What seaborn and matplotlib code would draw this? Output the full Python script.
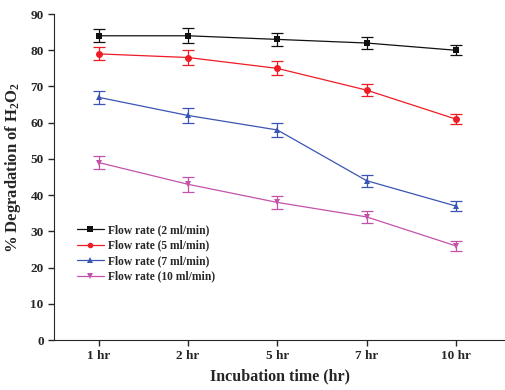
import pandas as pd
import seaborn as sns
import matplotlib.pyplot as plt

times = ["1 hr", "2 hr", "5 hr", "7 hr", "10 hr"]
rate_2 = [84, 84, 83, 82, 80]
rate_5 = [79, 78, 75, 69, 61]
rate_7 = [67, 62, 58, 44, 37]
rate_10 = [49, 43, 38, 34, 26]
err = [1.8, 2.1, 1.9, 1.7, 1.4]
labels = ["Flow rate (2 ml/min)", "Flow rate (5 ml/min)",
          "Flow rate (7 ml/min)", "Flow rate (10 ml/min)"]

rows = []
for lab, vals in zip(labels, [rate_2, rate_5, rate_7, rate_10]):
    for t, v, e in zip(times, vals, err):
        rows.append({"time": t, "value": v, "err": e, "series": lab})
df = pd.DataFrame(rows)

sns.set_style("ticks")
plt.rcParams["font.family"] = ["Liberation Serif", "DejaVu Serif"]
plt.rcParams["mathtext.fontset"] = "custom"
plt.rcParams["mathtext.rm"] = "Liberation Serif:bold"
plt.rcParams["mathtext.it"] = "Liberation Serif:bold"

colors = ["#111111", "#ee1c25", "#3a55b4", "#c452aa"]
markers = ["s", "o", "^", "v"]

fig = plt.figure(figsize=(5.06, 3.9), dpi=100)
ax = fig.add_axes([0.107, 0.128, 0.891, 0.836])

sns.lineplot(data=df, x="time", y="value", hue="series", style="series",
             palette=colors, markers=markers, dashes=False, markersize=5,
             markeredgewidth=0, linewidth=0.9, ax=ax)
for lab, c in zip(labels, colors):
    d = df[df["series"] == lab]
    ax.errorbar(d["time"], d["value"], yerr=d["err"], fmt="none",
                ecolor=c, elinewidth=0.9, capsize=4, capthick=0.9)

ax.set_xlim(-0.5, 4.55)
ax.set_ylim(0, 90)
ax.set_yticks(range(0, 91, 10))
sns.despine(ax=ax)
ax.tick_params(axis="both", labelsize=9.5, width=1, length=4)
for t in ax.get_xticklabels() + ax.get_yticklabels():
    t.set_fontweight("bold")
ax.set_xlabel("Incubation time (hr)", fontsize=11.5, fontweight="bold")
ax.set_ylabel(r"% Degradation of H$_2$O$_2$", fontsize=12, fontweight="bold")
ax.yaxis.set_label_coords(-0.068, 0.53)

leg = ax.legend(loc="lower left", bbox_to_anchor=(0.04, 0.162), frameon=False,
                borderaxespad=0, prop={"weight": "bold", "size": 8.3},
                handlelength=2.35, labelspacing=0.3, handletextpad=0.35,
                markerscale=0.8)

fig.savefig("out.png", dpi=100)
